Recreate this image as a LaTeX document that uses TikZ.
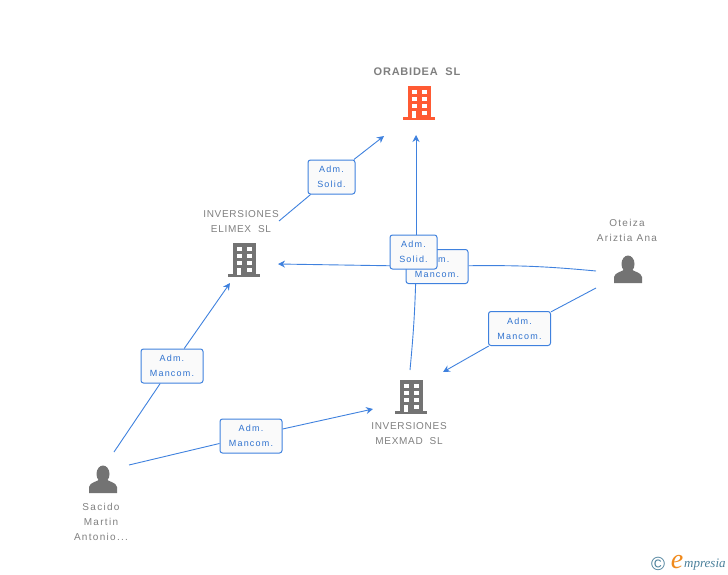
\documentclass[tikz,border=0pt]{standalone}
\usepackage{fontspec}
\setmainfont[LetterSpace=7]{Liberation Sans}
\newfontfamily\logofont{Liberation Serif}
\newfontfamily\widefont[LetterSpace=13]{Liberation Sans}
\usetikzlibrary{arrows.meta,backgrounds}
\definecolor{linkblue}{HTML}{3F81DE}
\definecolor{textblue}{HTML}{2F72CF}
\definecolor{namegray}{HTML}{7F7F7F}
\definecolor{icongray}{HTML}{737373}
\definecolor{mainorange}{HTML}{FF5A33}
\definecolor{logoblue}{HTML}{4A7F9A}
\definecolor{logoorange}{HTML}{F08A1D}
\tikzset{
  building/.pic = {
    \fill[pic actions] (-11,-17) rectangle (12,15);
    \fill[pic actions] (-16,14) rectangle (16,17);
    \foreach \row in {-13,-6,1} {
      \fill[white] (-7,\row) rectangle (-2,\row+4);
      \fill[white] (3,\row) rectangle (8,\row+4);
    }
    \fill[white] (-7,8) rectangle (-3,15);
    \fill[white] (3,8) rectangle (8,12);
  },
  person/.pic = {
    \fill[pic actions] (0,-5) ellipse (6.5 and 8.5);
    \fill[pic actions] (-14,14) -- (-14,8) .. controls (-13,3) and (-6,3) .. (-3,0)
      -- (3,0) .. controls (6,3) and (13,3) .. (14,8) -- (14,14) -- cycle;
  }
}
\begin{document}
\begin{tikzpicture}[x=1pt,y=-1pt,
  orgname/.style = {text=namegray,font=\fontsize{10}{15}\selectfont,align=center,inner sep=0},
  personname/.style = {orgname,font=\widefont\fontsize{10}{15}\selectfont},
  link/.style = {draw=linkblue,line width=0.9pt},
  arrowed/.style = {-{Stealth[length=7pt,width=7pt]}},
  admbox/.style = {draw=linkblue,line width=1pt,rounded corners=2.5pt,fill=black!2,
    text=textblue,font=\widefont\fontsize{9}{15}\selectfont,align=center,inner sep=0,minimum height=34pt},
  solidbox/.style = {admbox,minimum width=47pt},
  mancombox/.style = {admbox,minimum width=62pt}]
\useasboundingbox (0,0) rectangle (728,575);

\node[orgname,font=\fontsize{11}{15}\selectfont\bfseries] (orabidea) at (417,72) {ORABIDEA\ \ SL};
\node[orgname] (elimex) at (241,222) {INVERSIONES\\ELIMEX\ \ SL};
\node[orgname] (mexmad) at (409,434) {INVERSIONES\\MEXMAD\ \ SL};
\node[personname] (oteiza) at (627,230) {Oteiza\\Ariztia Ana};
\node[personname] (sacido) at (101,522) {Sacido\\Martin\\Antonio...};

\pic[mainorange] at (419,103) {building};
\pic[icongray] at (244,260) {building};
\pic[icongray] at (411,397) {building};
\pic[icongray] at (628,269) {person};
\pic[icongray] at (103,479) {person};

\coordinate (orabidea left) at (384,136);
\coordinate (orabidea down) at (416,135);
\coordinate (elimex top) at (279,221);
\coordinate (elimex right) at (278,264);
\coordinate (elimex down) at (230,283);
\coordinate (mexmad top) at (410,370);
\coordinate (mexmad left) at (373,409);
\coordinate (mexmad right) at (443,372);
\coordinate (oteiza left) at (596,271);
\coordinate (oteiza down) at (596,288);
\coordinate (sacido top) at (114,452);
\coordinate (sacido right) at (129,465);

\node[solidbox] (box1) at (331.5,177) {Adm.\\Solid.};
\node[mancombox] (box2) at (437,266.5) {Adm.\\Mancom.};
\node[solidbox] (box3) at (413.5,252) {Adm.\\Solid.};
\node[mancombox] (box4) at (519.5,328.5) {Adm.\\Mancom.};
\node[mancombox] (box5) at (172,366) {Adm.\\Mancom.};
\node[mancombox] (box6) at (251,436) {Adm.\\Mancom.};

\begin{scope}[on background layer]
\draw[link] (elimex top) -- (box1);
\draw[link,arrowed] (box1) -- (orabidea left);
\draw[link] (mexmad top) to[bend right=2] (box3.south -| orabidea down);
\draw[link,arrowed] (box3.north -| orabidea down) -- (orabidea down);
\draw[link] (oteiza left) to[bend right=3] (box2);
\draw[link,arrowed] (box2) -- (elimex right);
\draw[link] (oteiza down) -- (box4);
\draw[link,arrowed] (box4) -- (mexmad right);
\draw[link] (sacido top) -- (box5);
\draw[link,arrowed] (box5) -- (elimex down);
\draw[link] (sacido right) -- (box6);
\draw[link,arrowed] (box6) -- (mexmad left);
\end{scope}

\node[text=logoblue,font=\fontsize{19}{19}\selectfont,inner sep=0] (copy) at (658,564) {©};
\node[text=logoorange,font=\logofont\itshape\fontsize{28}{28}\selectfont,inner sep=0] (logoe) at (677,562) {e};
\node[text=logoblue,font=\logofont\itshape\fontsize{13}{13}\selectfont,inner sep=0,anchor=west] (logo) at (684,565) {mpresia};
\end{tikzpicture}
\end{document}
